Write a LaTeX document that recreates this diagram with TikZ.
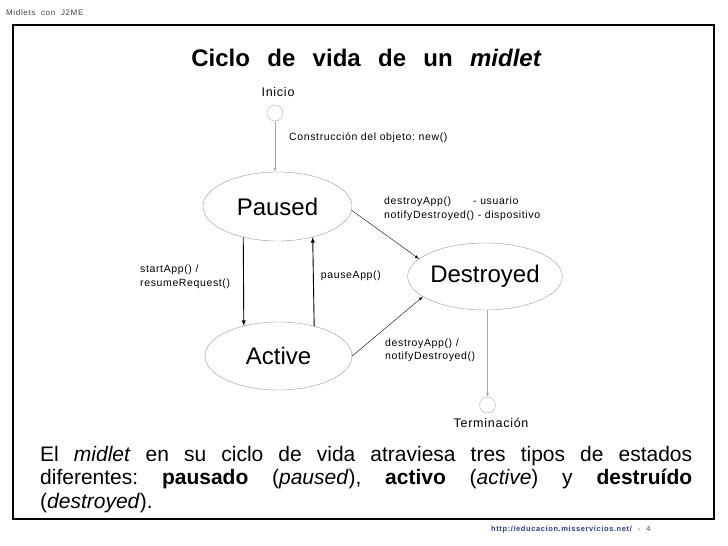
\documentclass[tikz,border=0pt]{standalone}
\usepackage{fontspec}
\setmainfont{Liberation Sans}
\newfontfamily\titrefont[WordSpace=2.6]{Liberation Sans}
\newfontfamily\etiqfont[LetterSpace=6]{Liberation Sans}
\newfontfamily\petitfont[LetterSpace=8,WordSpace=2]{Liberation Sans}
\usetikzlibrary{shapes.geometric}
\definecolor{lien}{RGB}{40,60,150}
\frenchspacing

\begin{document}
\begin{tikzpicture}[x=1pt,y=-1pt,
  etat/.style={ellipse,draw=gray!80,thin,inner sep=0pt,font=\fontsize{24}{28}\selectfont},
  rond/.style={circle,draw=gray!60,thin,minimum size=16pt,inner sep=0pt},
  etiq/.style={font=\etiqfont\fontsize{10.5}{13.7}\selectfont,align=left,anchor=west,inner sep=0pt},
  fleche/.style={->,>=latex,black}]
% Cadre de la page
\useasboundingbox (0,0) rectangle (728,546);
\draw[line width=1.5pt] (13,25) rectangle (714,519);

% En-tête, titre et pied de page
\node[anchor=west,inner sep=0pt,text=black!75,font=\petitfont\fontsize{8}{10}\selectfont] (entete) at (6,13) {Midlets con J2ME};
\node[anchor=base,inner sep=0pt,font=\titrefont\bfseries\fontsize{24}{28}\selectfont] (titre) at (366.5,66.5) {Ciclo de vida de un \textit{midlet}};
\node[anchor=west,inner sep=0pt,text=lien,font=\petitfont\bfseries\fontsize{7.5}{9}\selectfont] (pied) at (491,530) {http://educacion.misservicios.net/\hspace{6pt}\textcolor{gray}{-\hspace{6pt}4}};

% Etats
\node[etat,minimum width=149pt,minimum height=69pt] (paused) at (277.5,206.5) {Paused};
\node[etat,minimum width=147pt,minimum height=68pt] (active) at (278.5,356) {Active};
\node[etat,minimum width=146pt,minimum height=67pt] (destroyed) at (485,276.5) {Destroyed};

% Début et fin
\node[rond] (inicio) at (275,113) {};
\node[rond] (fin) at (487.5,405) {};
\node[font=\etiqfont\fontsize{12.5}{15}\selectfont,inner sep=0pt] (lblinicio) at (278,91.7) {Inicio};
\node[font=\etiqfont\fontsize{12.5}{15}\selectfont,inner sep=0pt] (lblfin) at (491,423) {Terminación};

% Transitions
\draw[fleche,gray!70] (inicio) -- (inicio |- paused.north);
\draw[fleche,line width=0.9pt] (paused.222.6) -- (active.139.2);
\draw[fleche,line width=0.9pt] (active.40.8) -- (paused.319.8);
\draw[fleche] (paused.357) -- (destroyed.165);
\draw[fleche] (active.east) -- (destroyed.198);
\draw[fleche,gray!70] (fin |- destroyed.south) -- (fin);

% Etiquettes des transitions
\node[etiq] (lblnew) at (289,137.7) {Construcción del objeto: new()};
\node[etiq] (lblstart) at (140,276.7) {startApp() /\\resumeRequest()};
\node[etiq] (lblpause) at (320.7,276) {pauseApp()};
\node[etiq] (lbldestroy) at (384,209) {destroyApp()\hspace{22pt}- usuario\\notifyDestroyed() - dispositivo};
\node[etiq] (lblnotify) at (385,350.3) {destroyApp() /\\notifyDestroyed()};

% Texte
\node[anchor=north west,inner sep=0pt,text width=652pt,align=justify,font=\fontsize{21}{23.5}\selectfont] (texte) at (40,446) {El \textit{midlet} en su ciclo de vida atraviesa tres tipos de estados\linebreak diferentes: \textbf{pausado} (\textit{paused}), \textbf{activo} (\textit{active}) y \textbf{destruído}\linebreak (\textit{destroyed}).};

\end{tikzpicture}
\end{document}
